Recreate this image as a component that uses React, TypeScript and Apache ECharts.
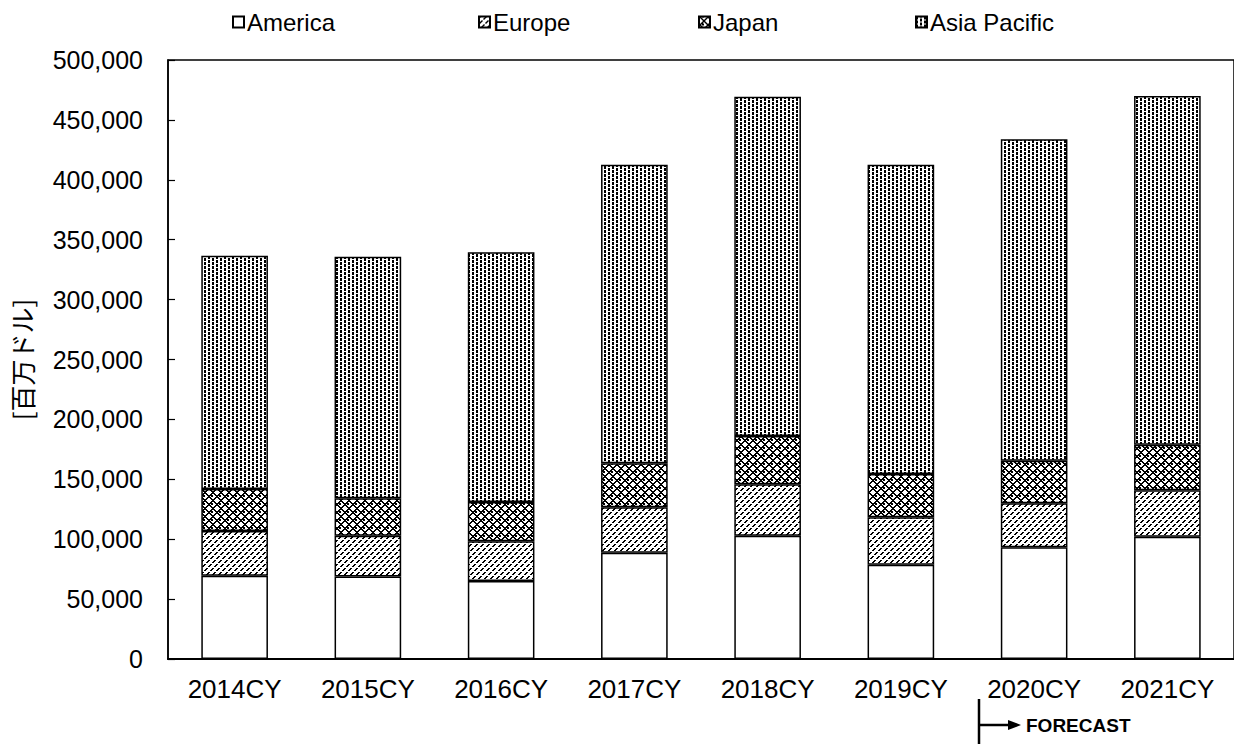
import React, { useEffect, useRef } from "react";
import * as echarts from "echarts";

const categories = ["2014CY", "2015CY", "2016CY", "2017CY", "2018CY", "2019CY", "2020CY", "2021CY"];
const america = [69500, 68800, 65100, 88700, 102900, 78700, 93200, 102100];
const europe = [37300, 34100, 33100, 37900, 42900, 39600, 36800, 38700];
const japan = [35100, 31200, 32800, 36700, 40300, 36100, 35500, 38100];
const asiaPacific = [194700, 201700, 208500, 249300, 283300, 258200, 268300, 291100];
const seriesNames = ["America", "Europe", "Japan", "Asia Pacific"];

function makePattern(w: number, h: number, fn: (x: number, y: number) => boolean) {
  const c = document.createElement("canvas");
  c.width = w;
  c.height = h;
  const ctx = c.getContext("2d")!;
  ctx.fillStyle = "#fff";
  ctx.fillRect(0, 0, w, h);
  ctx.fillStyle = "#000";
  for (let y = 0; y < h; y++) {
    for (let x = 0; x < w; x++) {
      if (fn(x, y)) ctx.fillRect(x, y, 1, 1);
    }
  }
  return { image: c.toDataURL(), repeat: "repeat", imageWidth: w, imageHeight: h };
}

export default function App() {
  const ref = useRef<HTMLDivElement>(null);
  useEffect(() => {
    document.body.style.margin = "0";
    const chart = echarts.init(ref.current!, null, { renderer: "svg" });
    const font = "'Liberation Sans', Arial, sans-serif";

    const europePat = makePattern(6, 12, (x, y) => (x + y) % 6 < 2 && y % 4 !== 3);
    const japanPat = makePattern(8, 8, (x, y) => (x + y) % 8 < 2 || (x - y + 16) % 8 < 2 || ((x % 8 === 4 || x % 8 === 3) && (y % 8 === 0 || y % 8 === 7)));
    const asiaPat = makePattern(8, 8, (x, y) => {
      const dx = x % 4;
      const col = Math.floor(x / 4);
      const yy = (y + (col % 2) * 2) % 4;
      return dx < 2 && yy < 3;
    });

    const fills: any[] = ["#ffffff", europePat, japanPat, asiaPat];
    const datas = [america, europe, japan, asiaPacific];
    const legendLefts = [232, 478, 698, 915];

    chart.setOption({
      animation: false,
      textStyle: { fontFamily: font },
      grid: {
        left: 165,
        top: 60,
        width: 1073,
        height: 599,
        show: true,
        borderColor: "#000",
        borderWidth: 1.5,
        backgroundColor: "transparent",
      },
      legend: seriesNames.map((n, i) => ({
        data: [n],
        left: legendLefts[i],
        top: 10,
        padding: 0,
        icon: "rect",
        itemWidth: 11,
        itemHeight: 11,
        itemGap: 0,
        textStyle: { fontSize: 24, color: "#000", fontFamily: font, padding: [0, 0, 0, -2] },
      })),
      xAxis: {
        type: "category",
        data: categories,
        axisLine: { lineStyle: { color: "#000", width: 2 } },
        axisTick: { inside: true, length: 7, lineStyle: { color: "#000", width: 1.2 } },
        axisLabel: { fontSize: 26, color: "#000", margin: 17, fontFamily: font },
      },
      yAxis: {
        type: "value",
        min: 0,
        max: 500000,
        interval: 50000,
        name: "[百万ドル]",
        nameLocation: "middle",
        nameGap: 134,
        nameTextStyle: { fontSize: 26, color: "#000", fontFamily: "'Noto Sans CJK JP', sans-serif" },
        axisLine: { show: true, lineStyle: { color: "#000", width: 1.5 } },
        axisTick: { show: true, inside: true, length: 7, lineStyle: { color: "#000", width: 1.2 } },
        splitLine: { show: false },
        axisLabel: {
          fontSize: 25,
          color: "#000",
          margin: 25,
          fontFamily: font,
          formatter: (v: number) => v.toLocaleString("en-US"),
        },
      },
      series: seriesNames.map((n, i) => ({
        name: n,
        type: "bar",
        stack: "total",
        barWidth: "50%",
        data: datas[i],
        itemStyle: { color: fills[i], borderColor: "#000", borderWidth: 1.5 },
      })),
      graphic: [
        { type: "line", shape: { x1: 979, y1: 699, x2: 979, y2: 744 }, style: { stroke: "#000", lineWidth: 2.5 } },
        { type: "line", shape: { x1: 979, y1: 725, x2: 1010, y2: 725 }, style: { stroke: "#000", lineWidth: 2.5 } },
        { type: "polygon", shape: { points: [[1008, 720], [1021, 725], [1008, 730]] }, style: { fill: "#000" } },
        {
          type: "text",
          x: 1026,
          y: 725,
          style: { text: "FORECAST", font: `bold 19px ${font}`, fill: "#000", verticalAlign: "middle" },
        },
      ],
    });
    return () => chart.dispose();
  }, []);
  return <div ref={ref} style={{ width: 1234, height: 744 }} />;
}
